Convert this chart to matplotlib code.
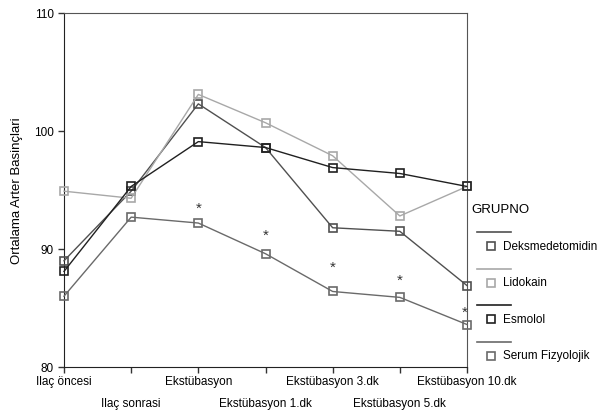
import matplotlib
matplotlib.use("Agg")
import matplotlib.pyplot as plt
import matplotlib.transforms as mtransforms
from matplotlib.lines import Line2D

plt.rcParams["font.family"] = ["Liberation Sans", "DejaVu Sans"]

categories = ["Ilaç öncesi", "Ilaç sonrasi", "Ekstübasyon", "Ekstübasyon 1.dk",
              "Ekstübasyon 3.dk", "Ekstübasyon 5.dk", "Ekstübasyon 10.dk"]
groups = ["Deksmedetomidin", "Lidokain", "Esmolol", "Serum Fizyolojik"]
deks = [89.0, 94.9, 102.3, 98.6, 91.8, 91.5, 86.9]
lido = [94.9, 94.3, 103.1, 100.7, 97.9, 92.8, 95.3]
esmo = [88.1, 95.3, 99.1, 98.6, 96.9, 96.4, 95.3]
serum = [86.0, 92.7, 92.2, 89.6, 86.4, 85.9, 83.6]
star_idx = [2, 3, 4, 5, 6]
star_y = [93.5, 91.2, 88.5, 87.4, 84.7]

colors = ["#505050", "#a8a8a8", "#202020", "#6a6a6a"]
series = [deks, lido, esmo, serum]

W, H = 603, 414
fig = plt.figure(figsize=(W / 100, H / 100), dpi=100)
ax = fig.add_axes([64 / W, 1 - 368 / H, (467 - 64) / W, (368 - 14) / H])

x = list(range(len(categories)))
for vals, c in zip(series, colors):
    ax.plot(x, vals, "-", color=c, lw=1.0, marker="s", ms=6,
            mfc="none", mec=c, mew=1.2, clip_on=False, zorder=3)

for i, yv in zip(star_idx, star_y):
    xo = -0.04 if i == len(categories) - 1 else 0
    ax.text(i + xo, yv, "*", ha="center", va="center", fontsize=11, color="#333333")

ax.set_xlim(0, len(categories) - 1)
ax.set_ylim(80, 110)
ax.set_yticks([80, 90, 100, 110])
ax.set_xticks(x)
ax.set_xticklabels(categories)
ax.tick_params(axis="both", labelsize=8.5, length=4, width=1, color="#333333")
ax.tick_params(axis="x", pad=2)
# stagger every other category label onto a second row
shift = mtransforms.ScaledTranslation(0, -22 / 100, fig.dpi_scale_trans)
for i, lab in enumerate(ax.get_xticklabels()):
    if i % 2 == 1:
        lab.set_transform(lab.get_transform() + shift)
ax.set_ylabel("Ortalama Arter Basinçlari", fontsize=9.5, labelpad=8)
for s in ["left", "bottom"]:
    ax.spines[s].set_color("#222222")
for s in ["top", "right"]:
    ax.spines[s].set_color("#555555")

# legend drawn by hand
def fx(px):
    return px / W

def fy(py):
    return 1 - py / H

fig.text(fx(471), fy(210), "GRUPNO", fontsize=9.5, va="center", ha="left")
for k, (g, c) in enumerate(zip(groups, colors)):
    ly = 233 + k * 36.5
    fig.add_artist(Line2D([fx(477), fx(511)], [fy(ly), fy(ly)], color=c, lw=1.2))
    fig.add_artist(Line2D([fx(491)], [fy(ly + 14)], marker="s", ms=6, mfc="none",
                          mec=c, mew=1.2, ls="none"))
    fig.text(fx(503), fy(ly + 14), g, fontsize=8.5, va="center", ha="left")

fig.savefig("out.png", dpi=100)
